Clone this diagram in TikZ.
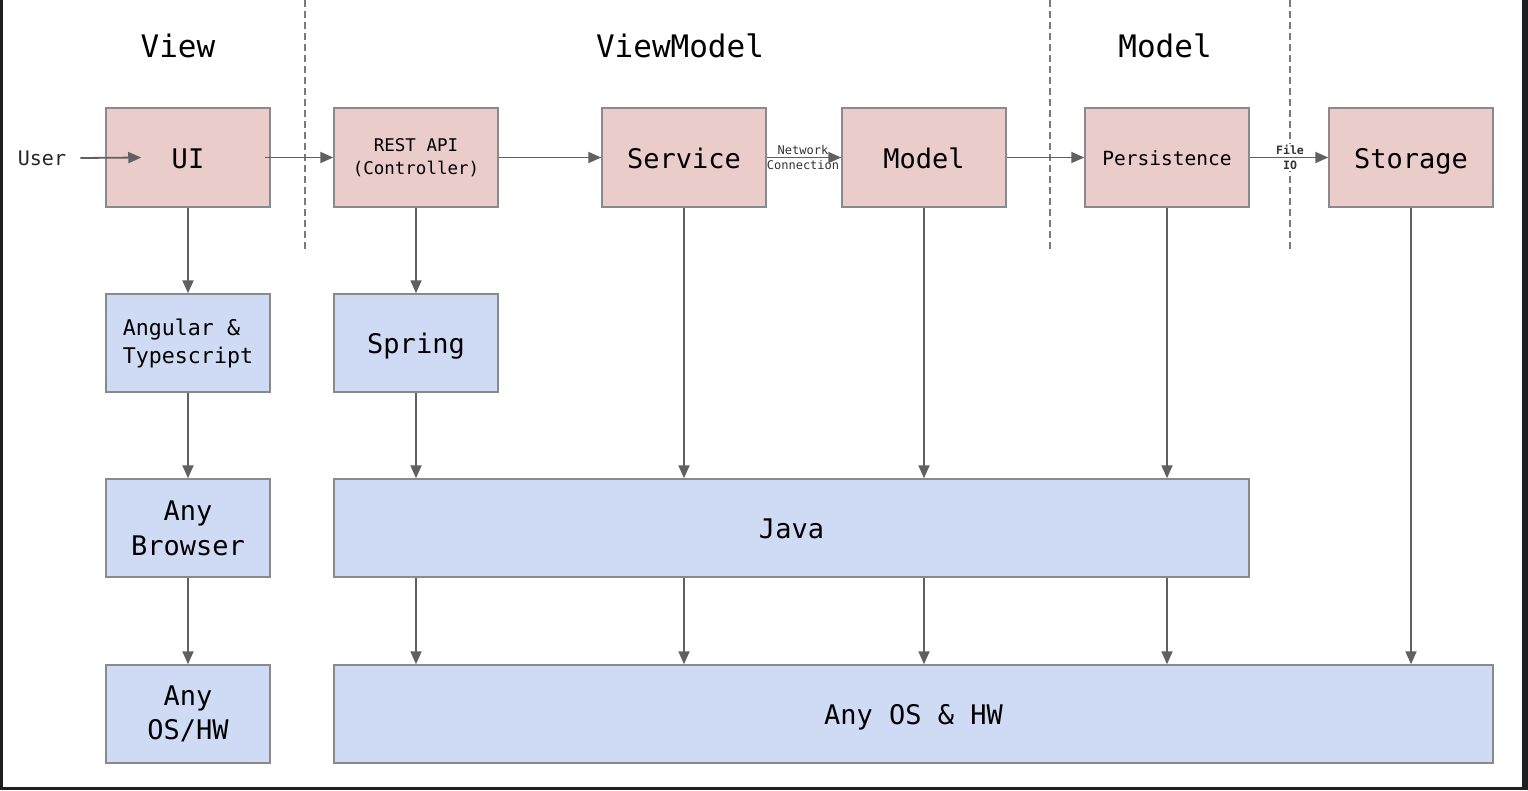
\documentclass[tikz,border=0pt]{standalone}
\usepackage{fontspec}
\setmonofont{DejaVu Sans Mono}
\usetikzlibrary{arrows.meta}
\definecolor{pinkf}{HTML}{EACCCB}
\definecolor{bluef}{HTML}{CFDBF4}
\definecolor{bord}{HTML}{8A8A8A}
\definecolor{arr}{HTML}{606060}
\definecolor{framec}{HTML}{1E1F22}
\definecolor{dashc}{HTML}{7A7A7A}
\newcommand{\fs}[2]{\fontsize{#1}{#2}\selectfont}
\tikzset{
  box/.style={draw=bord, line width=1.5pt, rectangle, inner sep=0pt,
    font=\ttfamily\fs{27}{35}, text=black},
  one/.style={text height=21.6pt, text depth=0pt},
  onep/.style={text height=15.6pt, text depth=0pt},
  pbox/.style={box, fill=pinkf, minimum width=164pt, minimum height=99pt},
  bbox/.style={box, fill=bluef, minimum height=98pt},
  conn/.style={draw=arr, line width=1.8pt, -{Triangle[length=13pt,width=11pt]}},
  sep/.style={draw=dashc, line width=1.4pt, dash pattern=on 7pt off 4pt},
  title/.style={font=\ttfamily\fs{31}{36}, text=black, inner sep=0pt},
  small/.style={font=\ttfamily\fs{12}{15}, text=black!80, inner sep=1pt, align=center}
}
\begin{document}
\begin{tikzpicture}[x=1pt,y=-1pt]
\useasboundingbox (0,0) rectangle (1528,790);
\fill[framec] (0,0) rectangle (1528,790);
\fill[white] (3,0) rectangle (1522,787);

% separators
\draw[sep] (305,0) -- (305,253);
\draw[sep] (1050,0) -- (1050,253);
\draw[sep] (1290,0) -- (1290,253);

% titles
\node[title] (tview) at (178,46) {View};
\node[title] (tvm) at (680,46) {ViewModel};
\node[title] (tmodel) at (1165,46) {Model};

% top row
\node[pbox, one] (ui) at (188,157.5) {UI};
\node[pbox, align=center, font=\ttfamily\fs{17.5}{23}] (rest) at (416,157.5) {REST API\\(Controller)};
\node[pbox, one] (service) at (684,157.5) {Service};
\node[pbox, one] (model) at (924,157.5) {Model};
\node[pbox, onep, font=\ttfamily\fs{19.5}{24}] (pers) at (1167,157.5) {Persistence};
\node[pbox, one] (storage) at (1411,157.5) {Storage};

% lower rows
\node[bbox, minimum width=164pt, align=left, font=\ttfamily\fs{21.6}{28}] (ang) at (188,343) {Angular \&\\Typescript};
\node[bbox, one, minimum width=164pt] (spring) at (416,343) {Spring};
\node[bbox, align=center, minimum width=164pt] (browser) at (188,528) {Any\\Browser};
\node[bbox, one, minimum width=915pt] (java) at (791.5,528) {Java};
\node[bbox, align=center, minimum width=164pt, font=\ttfamily\fs{27}{34}] (osa) at (188,714) {Any\\OS/HW};
\node[bbox, one, minimum width=1159pt] (os) at (913.5,714) {Any OS \& HW};

% user
\node[font=\ttfamily\fs{20}{24}, text=black!85, inner sep=0pt] (user) at (42,158) {User};

% horizontal connectors
\draw[conn] ([xshift=14pt]user.east) -- ([xshift=36pt]ui.west);
\draw[conn] ([xshift=-6pt]ui.east) -- (rest.west);
\draw[conn] (rest.east) -- (service.west);
\node[small] (net) at (803,157.5) {Network\\Connection};
\draw[conn] (service.east) -- (model.west);
\draw[conn] (model.east) -- (pers.west);
\node[small, fill=white, font=\ttfamily\bfseries\fs{11.5}{15}] (fio) at (1290,157.5) {File\\IO};
\draw[conn] (pers.east) -- (storage.west);

% vertical connectors
\draw[conn] (ui.south) -- (ang.north);
\draw[conn] (ang.south) -- (browser.north);
\draw[conn] (browser.south) -- (osa.north);
\draw[conn] (rest.south) -- (spring.north);
\draw[conn] (spring.south) -- (spring.south |- java.north);
\draw[conn] (service.south) -- (service.south |- java.north);
\draw[conn] (model.south) -- (model.south |- java.north);
\draw[conn] (pers.south) -- (pers.south |- java.north);
\draw[conn] (spring.south |- java.south) -- (spring.south |- os.north);
\draw[conn] (service.south |- java.south) -- (service.south |- os.north);
\draw[conn] (model.south |- java.south) -- (model.south |- os.north);
\draw[conn] (pers.south |- java.south) -- (pers.south |- os.north);
\draw[conn] (storage.south) -- (storage.south |- os.north);
\end{tikzpicture}
\end{document}
